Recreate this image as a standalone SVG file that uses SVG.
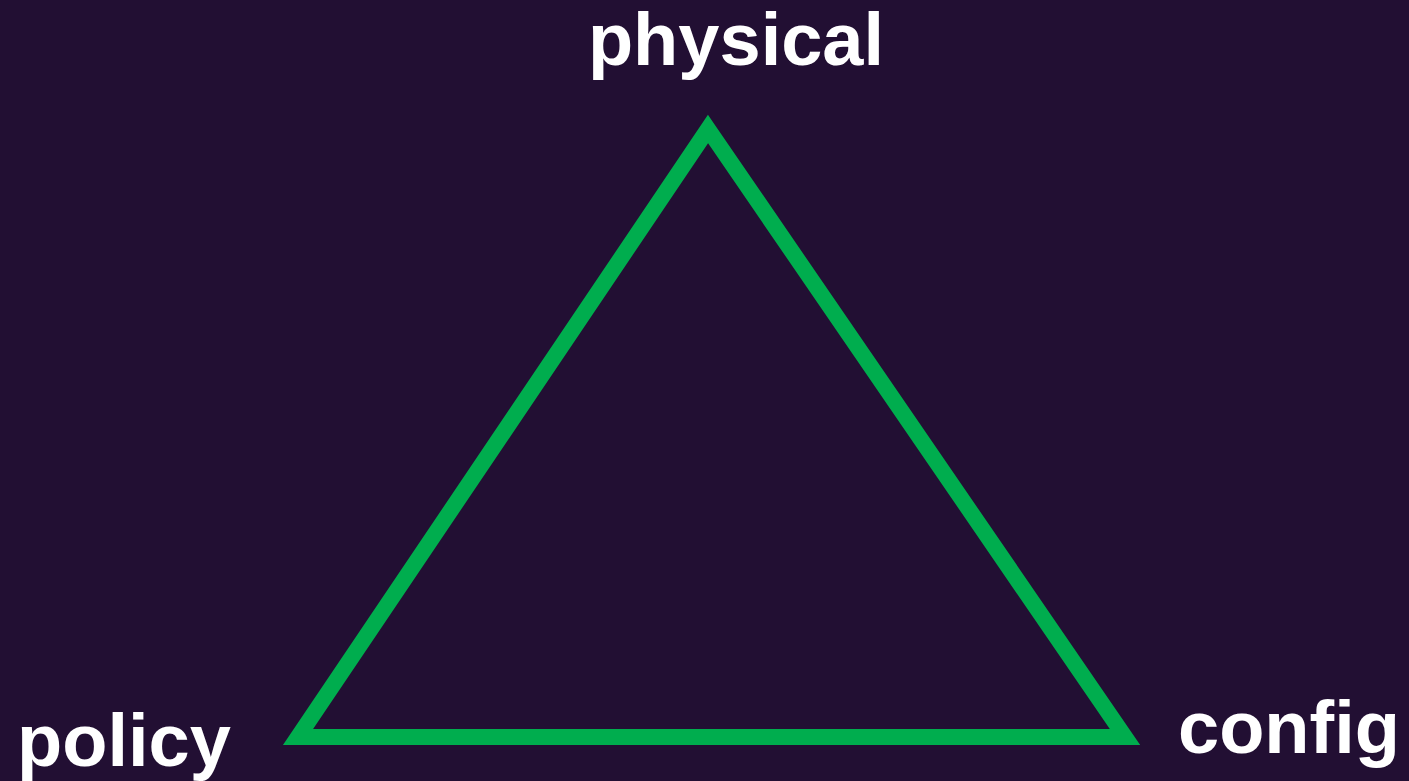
<svg xmlns="http://www.w3.org/2000/svg" width="1409" height="781" viewBox="0 0 1409 781">
<style>
.lbl{font-family:"Liberation Sans",Arial,sans-serif;font-weight:bold;font-size:74px;fill:#ffffff}
.edge{fill:none;stroke:#00ad4e;stroke-width:16;stroke-linejoin:miter}
</style>
<rect width="1409" height="781" fill="#220f33"/>
<g id="connectors">
<polygon class="edge" points="708,129 1125,737 298,737"/>
</g>
<g id="physical"><text class="lbl" x="736" y="65" text-anchor="middle">physical</text></g>
<g id="policy"><text class="lbl" x="17" y="766">policy</text></g>
<g id="config"><text class="lbl" x="1178" y="753">config</text></g>
</svg>
